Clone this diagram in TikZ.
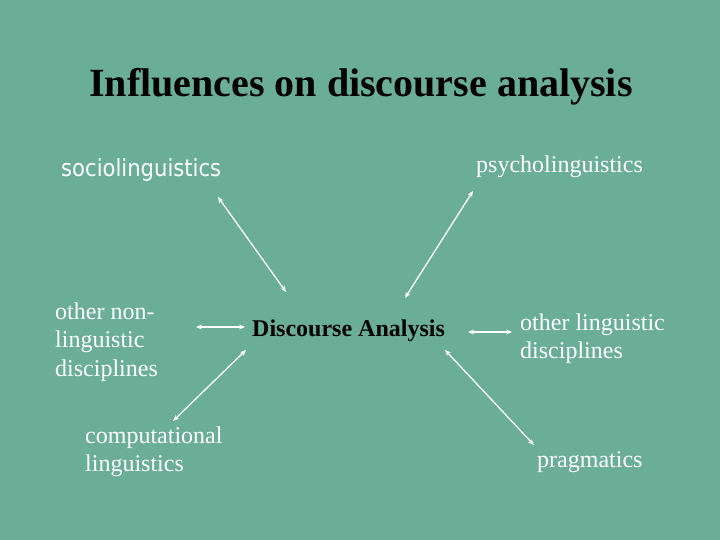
\documentclass[tikz,border=0pt]{standalone}
\usepackage{fontspec}
\setmainfont{Liberation Serif}
\newfontfamily\socfont{DejaVu Sans Condensed}
\usetikzlibrary{arrows.meta}
\definecolor{slidebg}{RGB}{107,174,152}
\begin{document}
\begin{tikzpicture}[x=1pt,y=-1pt,
  lbl/.style={inner sep=0pt,text=white,font=\fontsize{24}{28.5}\selectfont,align=left},
  conn/.style={draw=white,line width=1.3pt,{Stealth[length=6pt,width=5pt]}-{Stealth[length=6pt,width=5pt]}}]
\fill[slidebg] (0,0) rectangle (720,540);
\useasboundingbox (0,0) rectangle (720,540);
\node[inner sep=0pt,anchor=base west,font=\fontsize{40}{44}\selectfont\bfseries] (title) at (89,97) {Influences on discourse analysis};
\node[lbl,anchor=base west,font=\fontsize{23.5}{28}\socfont] (soc) at (61,177) {sociolinguistics};
\node[lbl,anchor=base west] (psy) at (476,173) {psycholinguistics};
\node[lbl,anchor=north west] (onl) at (55,301) {\rule{0pt}{18pt}other non-\\linguistic\\disciplines};
\node[inner sep=0pt,anchor=base west,font=\fontsize{24}{28}\selectfont\bfseries] (da) at (252,336) {Discourse Analysis};
\node[lbl,anchor=north west] (ol) at (520,312) {\rule{0pt}{18pt}other linguistic\\disciplines};
\node[lbl,anchor=north west] (comp) at (85,425) {\rule{0pt}{18pt}computational\\linguistics};
\node[lbl,anchor=base west] (prag) at (537,467) {pragmatics};
\coordinate (socA) at (218,197);
\coordinate (socB) at (286,292);
\coordinate (psyA) at (473,191);
\coordinate (psyB) at (405,298);
\coordinate (onlA) at (196,327);
\coordinate (onlB) at (245,327);
\coordinate (compA) at (246,350);
\coordinate (compB) at (173,421);
\coordinate (olA) at (468,332);
\coordinate (olB) at (512,332);
\coordinate (pragA) at (445,350);
\coordinate (pragB) at (534,445);
\draw[conn] (socA) -- (socB);
\draw[conn] (psyA) -- (psyB);
\draw[conn] (onlA) -- (onlB);
\draw[conn] (compA) -- (compB);
\draw[conn] (olA) -- (olB);
\draw[conn] (pragA) -- (pragB);
\end{tikzpicture}
\end{document}
